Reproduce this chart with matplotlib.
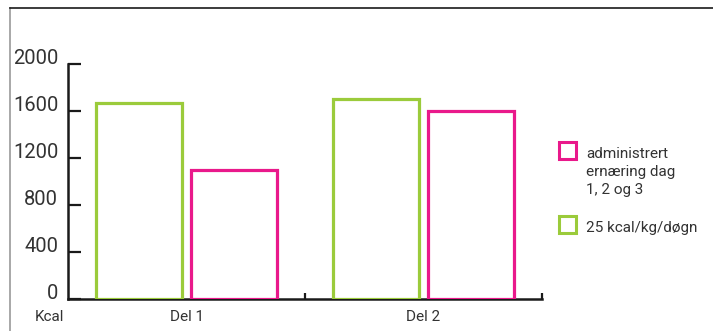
import numpy as np
import matplotlib.pyplot as plt
from matplotlib.patches import Rectangle
from matplotlib.lines import Line2D

plt.rcParams['font.family'] = ['Roboto', 'DejaVu Sans']

groups = ["Del 1", "Del 2"]
administrert = [1100, 1600]
kcal25 = [1670, 1700]
yticks = [0, 400, 800, 1200, 1600, 2000]
labels = ["administrert\nernæring dag\n1, 2 og 3", "25 kcal/kg/døgn"]

green = '#9BCB3B'
pink = '#E9198B'
txt = '#333333'

W, H = 713, 331
fig = plt.figure(figsize=(W/100, H/100), dpi=100)
ax = fig.add_axes([68/W, 32/H, 474/W, 235/H])

x = np.arange(len(groups)) + 0.5
w = 0.362
ax.bar(x - 0.2, kcal25, w, facecolor='white', edgecolor=green, linewidth=2.3, zorder=3)
ax.bar(x + 0.2, administrert, w, facecolor='white', edgecolor=pink, linewidth=2.3, zorder=3)

ax.set_xlim(0, 2)
ax.set_ylim(0, 2000)
for s in ['top', 'right']:
    ax.spines[s].set_visible(False)
for s in ['left', 'bottom']:
    ax.spines[s].set_linewidth(1.8)
    ax.spines[s].set_color('#1a1a1a')

ax.set_yticks(yticks)
ax.set_yticklabels([str(v) for v in yticks], fontsize=14.5, color=txt)
ax.tick_params(axis='y', direction='in', length=9, width=1.6, color='#1a1a1a', pad=7)
for lab in ax.get_yticklabels():
    lab.set_verticalalignment('baseline')

ax.set_xticks([1, 2])
ax.set_xticklabels(['', ''])
ax.tick_params(axis='x', which='major', direction='in', length=4.5, width=1.6, color='#1a1a1a')
ax.set_xticks(x, minor=True)
ax.set_xticklabels(groups, minor=True, fontsize=11, color=txt)
ax.tick_params(axis='x', which='minor', length=0, pad=8)

fig.text(49/W, 1 - 317/H, "Kcal", fontsize=11, color=txt, ha='center', va='center')

# legend drawn by hand so the box sits next to the first line
leg_colors = [pink, green]
leg_tops = [142, 216]
for lab, col, top in zip(labels, leg_colors, leg_tops):
    fig.add_artist(Rectangle((559/W, 1 - (top + 17)/H), 17/W, 17/H, transform=fig.transFigure,
                             facecolor='white', edgecolor=col, linewidth=2.2))
    fig.text(586/W, 1 - (top + 5)/H, lab, fontsize=11, color=txt, ha='left', va='top',
             linespacing=1.35)

# outer frame
fig.add_artist(Line2D([10/W, 10/W], [0, 1 - 8/H], color='#999999', linewidth=1.2))
fig.add_artist(Line2D([10/W, 1], [1 - 8/H, 1 - 8/H], color='#1a1a1a', linewidth=1.2))

fig.savefig('out.png', dpi=100)
